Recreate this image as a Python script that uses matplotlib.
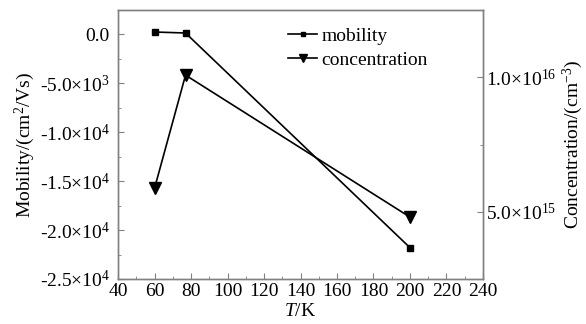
import matplotlib
matplotlib.use('Agg')
import matplotlib.pyplot as plt
from matplotlib.ticker import MultipleLocator, FuncFormatter

plt.rcParams['font.family'] = ['Liberation Serif', 'DejaVu Serif']
plt.rcParams['mathtext.fontset'] = 'custom'
plt.rcParams['mathtext.rm'] = 'Liberation Serif'
plt.rcParams['mathtext.it'] = 'Liberation Serif:italic'
plt.rcParams['axes.unicode_minus'] = False

# data
temp = [60, 77, 200]
mobility = [250, 150, -21800]
concentration = [5.87e15, 1.008e16, 4.8e15]

spine_col = '#808080'
fs = 14

fig = plt.figure(figsize=(5.86, 3.24), dpi=100)
ax = fig.add_axes([0.2014, 0.1389, 0.6228, 0.8302])
ax2 = ax.twinx()

l1, = ax.plot(temp, mobility, '-s', color='black', lw=1.2, ms=4)
l2, = ax2.plot(temp, concentration, '-v', color='black', lw=1.2, ms=8)

ax.set_xlim(40, 240)
ax.set_ylim(-2.5e4, 2.5e3)
ax2.set_ylim(2.5e15, 1.25e16)

def sci(v, pos):
    if v == 0:
        return '0.0'
    exp = 0
    m = abs(v)
    while m >= 10:
        m /= 10
        exp += 1
    sign = '-' if v < 0 else ''
    return sign + '%.1f×10$^{%d}$' % (m, exp)

ax.xaxis.set_major_locator(MultipleLocator(20))
ax.xaxis.set_minor_locator(MultipleLocator(10))
ax.yaxis.set_major_locator(MultipleLocator(5000))
ax.yaxis.set_minor_locator(MultipleLocator(2500))
ax.yaxis.set_major_formatter(FuncFormatter(sci))
ax2.yaxis.set_major_locator(MultipleLocator(5e15))
ax2.yaxis.set_minor_locator(MultipleLocator(2.5e15))
ax2.yaxis.set_major_formatter(FuncFormatter(sci))

for a in (ax, ax2):
    for s in a.spines.values():
        s.set_color(spine_col)
        s.set_linewidth(1.0)
    a.tick_params(which='both', direction='in', color=spine_col, labelsize=fs, pad=2)
    a.tick_params(which='major', length=4)
    a.tick_params(which='minor', length=2.5)
ax.tick_params(axis='y', right=False, pad=6)
ax.tick_params(axis='x', top=False, pad=3)

ax.set_xlabel('$T$/K', fontsize=fs, labelpad=2)
ax.set_ylabel('Mobility/(cm$^2$/Vs)', fontsize=fs, labelpad=2)
ax2.set_ylabel('Concentration/(cm$^{-3}$)', fontsize=fs, labelpad=3)

fig.legend([l1, l2], ['mobility', 'concentration'], loc='upper left',
           bbox_to_anchor=(0.492, 0.915), frameon=False, fontsize=fs,
           handlelength=1.5, handletextpad=0.2, labelspacing=0.3,
           borderpad=0, borderaxespad=0, markerscale=0.7)

fig.savefig('out.png', dpi=100)
